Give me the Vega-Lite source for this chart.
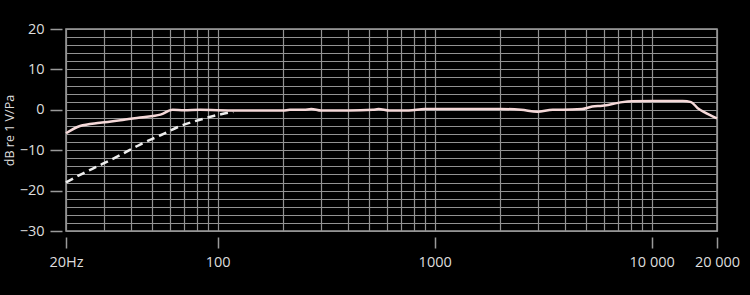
{
  "$schema": "https://vega.github.io/schema/vega-lite/v6.json",
  "width": 651,
  "height": 202,
  "autosize": {"type": "none"},
  "padding": {"left": 66, "top": 29, "right": 33, "bottom": 64},
  "background": "#000000",
  "config": {
    "view": {"stroke": "#a0a0a0", "strokeWidth": 1.5},
    "axis": {"labelFont": "Open Sans", "titleFont": "Open Sans", "labelColor": "#dddddd", "titleColor": "#dddddd", "gridColor": "#939393", "gridWidth": 1.2, "gridOpacity": 1, "tickColor": "#9a9a9a", "tickWidth": 1.5, "domain": false}
  },
  "datasets": {
    "solid": [
      {"f": 20, "db": -5.8}, {"f": 23.2, "db": -4.0}, {"f": 28.7, "db": -3.2}, {"f": 35.6, "db": -2.6},
      {"f": 43.9, "db": -1.9}, {"f": 54.5, "db": -1.2}, {"f": 62, "db": 0}, {"f": 70, "db": -0.1},
      {"f": 83, "db": 0}, {"f": 100, "db": -0.1}, {"f": 150, "db": -0.2}, {"f": 200, "db": -0.2},
      {"f": 215, "db": 0}, {"f": 250, "db": 0}, {"f": 270, "db": 0.2}, {"f": 300, "db": -0.2},
      {"f": 400, "db": -0.2}, {"f": 520, "db": 0}, {"f": 551, "db": 0.2}, {"f": 620, "db": -0.2},
      {"f": 760, "db": -0.2}, {"f": 900, "db": 0.2}, {"f": 1000, "db": 0.2}, {"f": 1500, "db": 0.2},
      {"f": 2000, "db": 0.2}, {"f": 2500, "db": 0}, {"f": 2970, "db": -0.5}, {"f": 3500, "db": 0},
      {"f": 3870, "db": 0}, {"f": 4780, "db": 0.2}, {"f": 5320, "db": 0.8}, {"f": 5920, "db": 1.0},
      {"f": 7320, "db": 1.9}, {"f": 8100, "db": 2.1}, {"f": 10100, "db": 2.2}, {"f": 13900, "db": 2.2},
      {"f": 15200, "db": 1.9}, {"f": 16300, "db": 0.4}, {"f": 17800, "db": -0.8}, {"f": 20000, "db": -2.1}
    ],
    "dashed": [
      {"f": 20, "db": -18}, {"f": 23.2, "db": -16.1}, {"f": 28.7, "db": -13.7}, {"f": 35.6, "db": -11.2},
      {"f": 43.9, "db": -8.6}, {"f": 54.5, "db": -6.3}, {"f": 67.4, "db": -4.0}, {"f": 83.5, "db": -2.4},
      {"f": 103.6, "db": -1.1}, {"f": 118, "db": -0.5}
    ]
  },
  "encoding": {
    "x": {
      "field": "f", "type": "quantitative",
      "scale": {"type": "log", "domain": [20, 20000], "nice": false},
      "axis": {
        "title": null,
        "values": [20, 30, 40, 50, 60, 70, 80, 90, 100, 200, 300, 400, 500, 600, 700, 800, 900, 1000, 2000, 3000, 4000, 5000, 6000, 7000, 8000, 9000, 10000, 20000],
        "labelExpr": "datum.value == 20 ? '20Hz' : datum.value == 100 ? '100' : datum.value == 1000 ? '1000' : datum.value == 10000 ? '10 000' : datum.value == 20000 ? '20 000' : ''",
        "tickOpacity": {"condition": {"test": "indexof([20,100,1000,10000,20000], datum.value) >= 0", "value": 1}, "value": 0},
        "offset": 6, "tickSize": 11, "labelPadding": 7, "labelFontSize": 14.5, "labelFlush": false, "labelOverlap": false
      }
    },
    "y": {
      "field": "db", "type": "quantitative",
      "scale": {"domain": [-30, 20], "nice": false},
      "axis": {
        "title": "dB re 1 V/Pa", "titleFontSize": 12.5, "titleFontWeight": "normal", "titlePadding": 3,
        "values": [-30, -28, -26, -24, -22, -20, -18, -16, -14, -12, -10, -8, -6, -4, -2, 0, 2, 4, 6, 8, 10, 12, 14, 16, 18, 20],
        "labelExpr": "datum.value % 10 == 0 ? datum.label : ''",
        "tickOpacity": {"condition": {"test": "datum.value % 10 == 0", "value": 1}, "value": 0},
        "offset": 4, "tickSize": 12, "labelPadding": 6, "labelFontSize": 14.5, "labelFlush": false, "labelOverlap": false
      }
    }
  },
  "layer": [
    {"data": {"name": "dashed"}, "mark": {"type": "line", "stroke": "#eeeeee", "strokeWidth": 2.5, "strokeDash": [8, 5], "interpolate": "monotone"}},
    {"data": {"name": "solid"}, "mark": {"type": "line", "stroke": "#f6d9d9", "strokeWidth": 2.5, "interpolate": "monotone"}}
  ]
}
